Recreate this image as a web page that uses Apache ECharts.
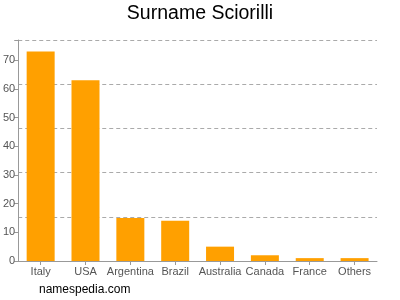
<!DOCTYPE html>
<html>
<head>
<meta charset="utf-8">
<script src="https://cdn.jsdelivr.net/npm/echarts@6/dist/echarts.min.js"></script>
<style>
  html, body { margin: 0; padding: 0; background: #fff; }
  #chart { width: 400px; height: 300px; }
</style>
</head>
<body>
<div id="chart"></div>
<script>
var countries = ['Italy', 'USA', 'Argentina', 'Brazil', 'Australia', 'Canada', 'France', 'Others'];
var counts = [73, 63, 15, 14, 5, 2, 1, 1];
var yTicks = [0, 10, 20, 30, 40, 50, 60, 70];

var font = '"Liberation Sans", Arial, sans-serif';
var myChart = echarts.init(document.getElementById('chart'));
var option = {
  animation: false,
  title: [
    {
      text: 'Surname Sciorilli',
      left: 'center',
      top: 4,
      padding: 0,
      textStyle: { fontFamily: font, fontSize: 19.5, fontWeight: 'normal', color: '#000' }
    },
    {
      text: 'namespedia.com',
      left: 39,
      top: 284,
      padding: 0,
      textStyle: { fontFamily: font, fontSize: 12, fontWeight: 'normal', color: '#000' }
    }
  ],
  grid: { left: 17, right: 23, top: 40, bottom: 39, containLabel: false },
  xAxis: {
    type: 'category',
    data: countries,
    axisLine: { lineStyle: { color: '#999', width: 1 } },
    axisTick: { show: true, alignWithLabel: true, length: 4, lineStyle: { color: '#999' } },
    axisLabel: { interval: 0, fontFamily: font, fontSize: 11, color: '#555', margin: 5 }
  },
  yAxis: [
    {
      type: 'value',
      min: 0,
      max: 77,
      interval: 10,
      axisLine: { show: true, lineStyle: { color: '#999', width: 1 } },
      axisTick: { show: true, length: 4, lineStyle: { color: '#999' } },
      axisLabel: {
        fontFamily: font, fontSize: 11, color: '#555', margin: 3,
        formatter: function (v) { return yTicks.indexOf(v) >= 0 ? String(v) : ''; }
      },
      splitLine: { show: false }
    },
    {
      type: 'value',
      min: 0,
      max: 5,
      interval: 1,
      position: 'left',
      axisLine: { show: false },
      axisTick: { show: false },
      axisLabel: { show: false },
      splitLine: { show: true, lineStyle: { color: '#aaa', type: [4, 3], width: 1 } }
    }
  ],
  series: [
    {
      type: 'bar',
      yAxisIndex: 0,
      data: counts,
      barWidth: 28,
      itemStyle: { color: '#ffa000' }
    }
  ]
};
myChart.setOption(option);
</script>
</body>
</html>
